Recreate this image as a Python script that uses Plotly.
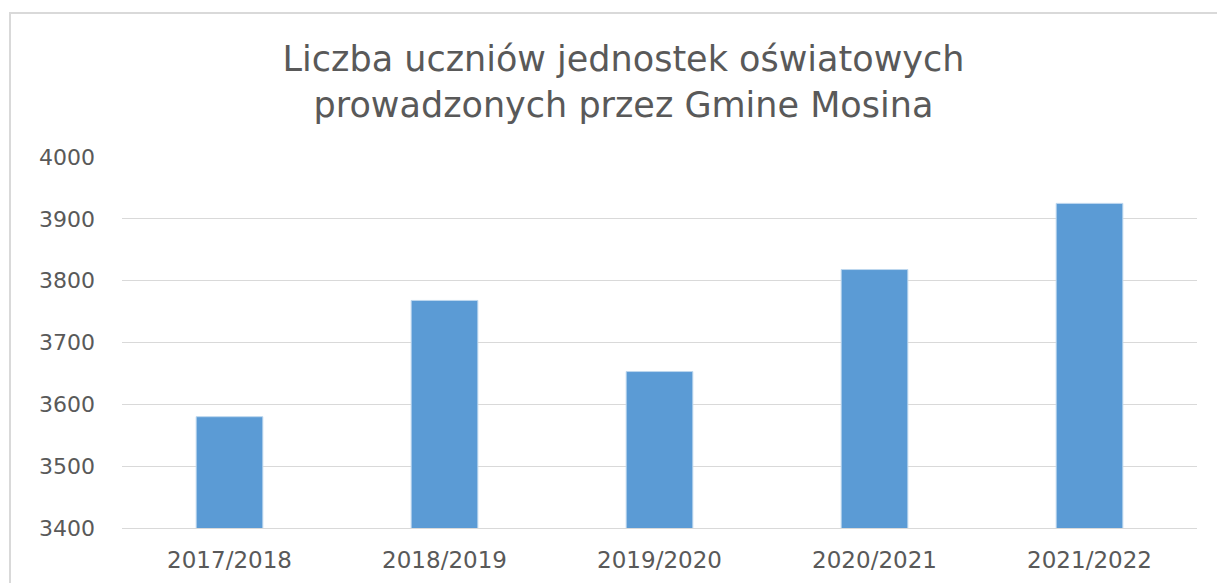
import plotly.graph_objects as go

categories = ["2017/2018", "2018/2019", "2019/2020", "2020/2021", "2021/2022"]
students = [3580, 3768, 3653, 3818, 3925]
tick_vals = [3400, 3500, 3600, 3700, 3800, 3900, 4000]
title_text = "Liczba uczniów jednostek oświatowych<br>prowadzonych przez Gmine Mosina"

# page body has 8px default margin -> figure coordinates offset by 8
OFF = 8
W, H = 1225 - OFF, 583 - OFF
L, R, T, B = 122 - OFF, 28, 157 - OFF, 55
pw, ph = W - L - R, H - T - B

fig = go.Figure()
fig.add_trace(go.Bar(
    x=categories, y=students,
    marker=dict(color="#5B9BD5", line=dict(color="#BDD7EE", width=1)),
    width=0.31,
))

FONT = "DejaVu Sans"
fig.update_layout(
    width=W, height=H,
    margin=dict(l=L, r=R, t=T, b=B, autoexpand=False),
    paper_bgcolor="white", plot_bgcolor="white",
    showlegend=False,
    font=dict(family=FONT, color="#595959"),
    title=dict(text=title_text, x=(623.5 - OFF) / W, xanchor="center",
               xref="container", y=1 - (71 - OFF) / H, yref="container", yanchor="middle",
               font=dict(family=FONT, size=35, color="#595959")),
    xaxis=dict(showgrid=False, showline=True, linecolor="#d9d9d9", linewidth=1,
               ticks="", tickfont=dict(size=23, color="#595959"), ticklabelstandoff=11),
    yaxis=dict(range=[3400, 4000], tickvals=tick_vals, showgrid=True,
               gridcolor="#d9d9d9", gridwidth=1, zeroline=False, showline=False,
               ticks="", tickfont=dict(size=22, color="#595959"), ticklabelstandoff=26),
)

# outer chart border
fig.add_shape(type="rect", xref="paper", yref="paper",
              x0=(10 - 122) / pw, x1=(1240 - 122) / pw,
              y0=-(600 - 528) / ph, y1=(528 - 13) / ph,
              line=dict(color="#d9d9d9", width=2), fillcolor="rgba(0,0,0,0)", layer="below")

fig.write_html("out.html")
